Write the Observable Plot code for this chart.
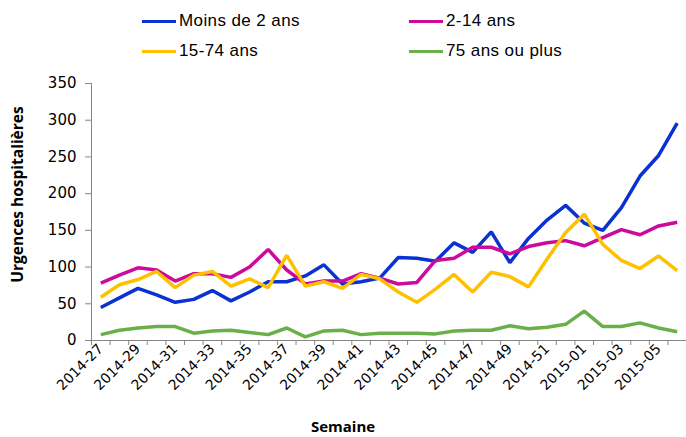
<!DOCTYPE html>
<html>
<head>
<meta charset="utf-8">
<script src="https://cdn.jsdelivr.net/npm/d3@7"></script>
<script src="https://cdn.jsdelivr.net/npm/@observablehq/plot@0.6"></script>
<style>
  html, body { margin: 0; padding: 0; background: #fff; }
  #wrap { width: 686px; height: 437px; position: relative; overflow: hidden; }
  #legend { position: relative; width: 686px; height: 65px; font-family: "Liberation Sans", Arial, sans-serif; font-size: 17px; letter-spacing: 0.4px; color: #000; }
  .item { position: absolute; display: flex; align-items: center; height: 20px; }
  .sw { width: 34px; height: 3px; margin-right: 3px; }
  svg { display: block; }
</style>
</head>
<body>
<div id="wrap">
  <div id="legend"></div>
  <div id="chart"></div>
</div>
<script>
const weeks = ["2014-27","2014-28","2014-29","2014-30","2014-31","2014-32","2014-33","2014-34","2014-35","2014-36",
  "2014-37","2014-38","2014-39","2014-40","2014-41","2014-42","2014-43","2014-44","2014-45","2014-46",
  "2014-47","2014-48","2014-49","2014-50","2014-51","2014-52","2015-01","2015-02","2015-03","2015-04",
  "2015-05","2015-06"];
const seriesNames = ["Moins de 2 ans", "2-14 ans", "15-74 ans", "75 ans ou plus"];
const seriesColors = ["#0a32d2", "#cc0a9c", "#ffc000", "#6aaf4a"];
const moins2 = [45,58,71,62,52,56,68,54,66,80,80,88,103,77,80,85,113,112,108,133,120,148,106,139,164,184,160,150,181,224,252,296];
const deux14 = [78,89,99,96,81,91,91,86,100,124,96,77,81,81,91,85,77,79,109,112,127,127,118,128,133,136,129,140,151,144,156,161];
const quinze74 = [59,76,83,94,72,89,94,74,84,72,116,74,80,71,90,84,66,52,70,90,66,93,87,73,111,147,172,131,109,98,115,95];
const plus75 = [8,14,17,19,19,10,13,14,11,8,17,5,13,14,8,10,10,10,9,13,14,14,20,16,18,22,40,19,19,24,17,12];
const yTicks = [0,50,100,150,200,250,300,350];
const yTitle = "Urgences hospitalières";
const xTitle = "Semaine";

const allSeries = [moins2, deux14, quinze74, plus75];
const rows = [];
allSeries.forEach((vals, s) => vals.forEach((v, i) => rows.push({i, week: weeks[i], series: seriesNames[s], value: v})));
const bounds = d3.range(weeks.length + 1).map(k => k - 0.5);
const labelIdx = weeks.map((w, i) => i).filter(i => i % 2 === 0);

// legend
const legendPos = [[142, 11], [409, 11], [142, 41], [409, 41]];
const leg = document.getElementById("legend");
seriesNames.forEach((name, k) => {
  const it = document.createElement("div");
  it.className = "item";
  it.style.left = legendPos[k][0] + "px";
  it.style.top = legendPos[k][1] + "px";
  const sw = document.createElement("span");
  sw.className = "sw";
  sw.style.background = seriesColors[k];
  const tx = document.createElement("span");
  tx.textContent = name;
  it.appendChild(sw); it.appendChild(tx);
  leg.appendChild(it);
});

const axisColor = "#868686";
const chart = Plot.plot({
  width: 686,
  height: 372,
  marginLeft: 91,
  marginRight: 0,
  marginTop: 18,
  marginBottom: 97,
  x: {type: "linear", domain: [-0.5, weeks.length - 0.5]},
  y: {domain: [0, 350]},
  color: {domain: seriesNames, range: seriesColors},
  style: {fontFamily: "DejaVu Sans, sans-serif", fontSize: "15px", color: "#000", background: "white", overflow: "visible"},
  marks: [
    Plot.axisY({ticks: yTicks, tickSize: 6, tickPadding: 9, stroke: axisColor, label: null, fontSize: 15}),
    Plot.axisX({ticks: bounds, tickSize: 5, tickFormat: () => "", stroke: axisColor, label: null}),
    Plot.axisX({ticks: labelIdx, tickSize: 0, tickPadding: 6, tickRotate: -45, tickFormat: i => weeks[i], label: null, fontSize: 14}),
    Plot.ruleY([0], {stroke: axisColor}),
    Plot.ruleX([-0.5], {y1: 0, y2: 350, stroke: axisColor}),
    Plot.lineY(rows, {x: "i", y: "value", z: "series", stroke: "series", strokeWidth: 3.5, strokeLinejoin: "miter", strokeLinecap: "butt"}),
    Plot.text([yTitle], {text: d => d, frameAnchor: "left", textAnchor: "middle", rotate: -90, dx: -73, dy: -17.5, fontWeight: "bold", fontFamily: "Open Sans", fontSize: 15.5, letterSpacing: "-0.2px"}),
    Plot.text([xTitle], {text: d => d, frameAnchor: "bottom", dx: -46, dy: 91, fontWeight: "bold", fontFamily: "Open Sans", fontSize: 15, letterSpacing: "0.4px"})
  ]
});
document.getElementById("chart").appendChild(chart);
</script>
</body>
</html>
